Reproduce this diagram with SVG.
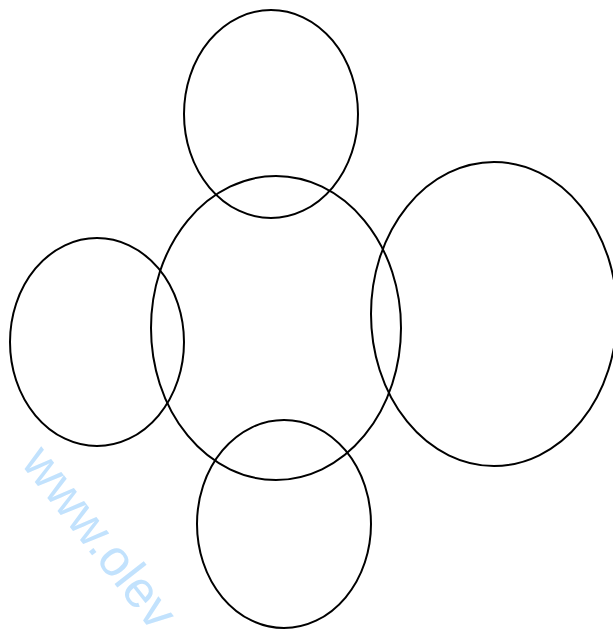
<svg xmlns="http://www.w3.org/2000/svg" width="613" height="630" viewBox="0 0 613 630">
<style>
.c{fill:none;stroke:#000;stroke-width:2}
.wm{font-family:"Liberation Sans",Arial,sans-serif;font-size:51px;fill:#c2e2fd}
</style>
<rect width="613" height="630" fill="#fff"/>
<g id="top"><ellipse class="c" cx="271" cy="114" rx="87" ry="104"/></g>
<g id="center"><ellipse class="c" cx="276" cy="328" rx="125" ry="152"/></g>
<g id="right"><ellipse class="c" cx="494" cy="314" rx="123" ry="152"/></g>
<g id="left"><ellipse class="c" cx="97" cy="342" rx="87" ry="104"/></g>
<g id="bottom"><ellipse class="c" cx="284" cy="524" rx="87" ry="104"/></g>
<g id="connectors"></g>
<text class="wm" transform="translate(20,463) rotate(52)">www.olev</text>
</svg>
